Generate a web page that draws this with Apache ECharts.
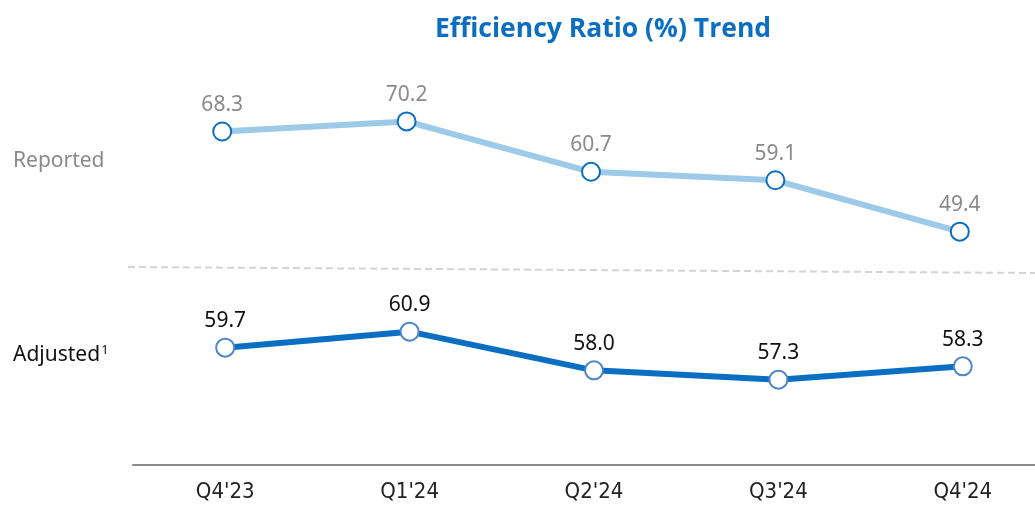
<!DOCTYPE html>
<html>
<head>
<meta charset="utf-8">
<script src="https://cdn.jsdelivr.net/npm/echarts@6/dist/echarts.min.js"></script>
<style>
  html, body { margin: 0; padding: 0; background: #fff; }
  #chart { width: 1035px; height: 505px; }
</style>
</head>
<body>
<div id="chart"></div>
<script>
// data
var quarters = ["Q4'23", "Q1'24", "Q2'24", "Q3'24", "Q4'24"];
var reported = [68.3, 70.2, 60.7, 59.1, 49.4];
var adjusted = [59.7, 60.9, 58.0, 57.3, 58.3];

var chart = echarts.init(document.getElementById('chart'));

var option = {
  animation: false,
  title: {
    text: 'Efficiency Ratio (%) Trend',
    left: 598,
    top: 11,
    textAlign: 'center',
    textStyle: { color: '#0a6fc2', fontSize: 26.5, fontWeight: 'bold', fontFamily: 'Open Sans' }
  },
  grid: [
    // reported band
    { left: 130, top: 96, width: 922, height: 159, outerBoundsMode: 'none' },
    // adjusted band (bottom = x axis line)
    { left: 133, top: 317, width: 922, height: 148, outerBoundsMode: 'none' }
  ],
  xAxis: [
    { gridIndex: 0, type: 'category', data: quarters, show: false },
    {
      gridIndex: 1, type: 'category', data: quarters,
      axisLine: { lineStyle: { color: '#8a8a8a', width: 2 } },
      axisTick: { show: false },
      axisLabel: { margin: 16, color: '#222', fontSize: 22, fontFamily: 'DejaVu Sans Condensed, Noto Sans' }
    }
  ],
  yAxis: [
    { gridIndex: 0, type: 'value', min: 45, max: 75, show: false },
    { gridIndex: 1, type: 'value', min: 50.9, max: 62, show: false }
  ],
  graphic: [
    {
      type: 'line',
      shape: { x1: 128, y1: 267, x2: 1035, y2: 273 },
      style: { stroke: '#d4d4d4', lineWidth: 2, lineDash: [7, 4] }
    },
    {
      type: 'text', left: 13, top: 151,
      style: { text: 'Reported', fill: '#8a8a8a', fontSize: 21, fontFamily: 'Noto Sans' }
    },
    {
      type: 'text', left: 13, top: 344,
      style: {
        text: '{a|Adjusted}{s|1}',
        rich: {
          a: { fill: '#111', fontSize: 21, fontFamily: 'Noto Sans' },
          s: { fill: '#111', fontSize: 13, fontFamily: 'Noto Sans', verticalAlign: 'top', padding: [0, 0, 10, 1] }
        }
      }
    }
  ],
  series: [
    {
      name: 'Reported',
      type: 'line',
      xAxisIndex: 0, yAxisIndex: 0,
      data: reported,
      symbol: 'circle',
      symbolSize: 18,
      lineStyle: { color: '#9dcae8', width: 6 },
      itemStyle: { color: '#fff', borderColor: '#0a6fc2', borderWidth: 2 },
      label: {
        show: true, position: 'top', distance: 6,
        color: '#8a8a8a', fontSize: 21, fontFamily: 'Noto Sans',
        formatter: function (p) { return p.value.toFixed(1); }
      },
      z: 3
    },
    {
      name: 'Adjusted',
      type: 'line',
      xAxisIndex: 1, yAxisIndex: 1,
      data: adjusted,
      symbol: 'circle',
      symbolSize: 18,
      lineStyle: { color: '#0a6fc2', width: 6 },
      itemStyle: { color: '#fff', borderColor: '#4f86c9', borderWidth: 2 },
      label: {
        show: true, position: 'top', distance: 6,
        color: '#111', fontSize: 21, fontFamily: 'Noto Sans',
        formatter: function (p) { return p.value.toFixed(1); }
      },
      z: 3
    }
  ]
};

chart.setOption(option);
</script>
</body>
</html>
